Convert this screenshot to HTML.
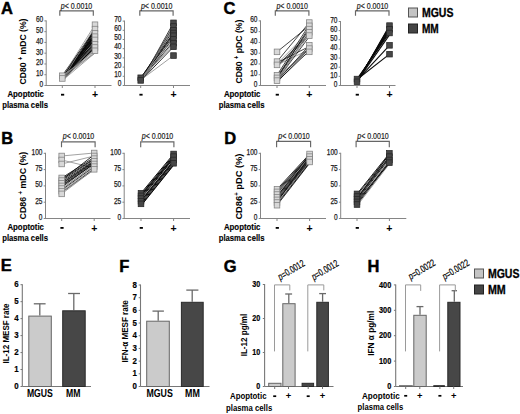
<!DOCTYPE html>
<html><head><meta charset="utf-8"><style>
html,body{margin:0;padding:0;background:#fff;}
svg{display:block;font-family:"Liberation Sans", sans-serif;}
</style></head><body>
<svg width="520" height="414" viewBox="0 0 520 414">
<rect width="520" height="414" fill="#fff"/>
<text x="1.00" y="14.10" font-size="16.5" font-weight="bold" text-anchor="start" fill="#000" stroke="#000" stroke-width="0.45">A</text>
<text x="223.60" y="13.90" font-size="16.5" font-weight="bold" text-anchor="start" fill="#000" stroke="#000" stroke-width="0.45">C</text>
<text x="1.20" y="144.20" font-size="16.5" font-weight="bold" text-anchor="start" fill="#000" stroke="#000" stroke-width="0.45">B</text>
<text x="224.20" y="143.70" font-size="16.5" font-weight="bold" text-anchor="start" fill="#000" stroke="#000" stroke-width="0.45">D</text>
<text x="0.80" y="271.30" font-size="16.5" font-weight="bold" text-anchor="start" fill="#000" stroke="#000" stroke-width="0.45">E</text>
<text x="119.20" y="271.60" font-size="16.5" font-weight="bold" text-anchor="start" fill="#000" stroke="#000" stroke-width="0.45">F</text>
<text x="223.80" y="272.10" font-size="16.5" font-weight="bold" text-anchor="start" fill="#000" stroke="#000" stroke-width="0.45">G</text>
<text x="367.40" y="272.10" font-size="16.5" font-weight="bold" text-anchor="start" fill="#000" stroke="#000" stroke-width="0.45">H</text>
<line x1="46.20" y1="20.40" x2="46.20" y2="85.50" stroke="#858585" stroke-width="1" />
<line x1="45.70" y1="85.50" x2="111.50" y2="85.50" stroke="#858585" stroke-width="1" />
<line x1="44.40" y1="85.50" x2="46.20" y2="85.50" stroke="#858585" stroke-width="1" />
<text x="43.20" y="87.00" font-size="9.0" font-weight="normal" text-anchor="end" fill="#1a1a1a" textLength="3.65" lengthAdjust="spacingAndGlyphs" stroke="#1a1a1a" stroke-width="0.25">0</text>
<line x1="44.40" y1="74.73" x2="46.20" y2="74.73" stroke="#858585" stroke-width="1" />
<text x="43.20" y="76.23" font-size="9.0" font-weight="normal" text-anchor="end" fill="#1a1a1a" textLength="7.30" lengthAdjust="spacingAndGlyphs" stroke="#1a1a1a" stroke-width="0.25">10</text>
<line x1="44.40" y1="63.97" x2="46.20" y2="63.97" stroke="#858585" stroke-width="1" />
<text x="43.20" y="65.47" font-size="9.0" font-weight="normal" text-anchor="end" fill="#1a1a1a" textLength="7.30" lengthAdjust="spacingAndGlyphs" stroke="#1a1a1a" stroke-width="0.25">20</text>
<line x1="44.40" y1="53.20" x2="46.20" y2="53.20" stroke="#858585" stroke-width="1" />
<text x="43.20" y="54.70" font-size="9.0" font-weight="normal" text-anchor="end" fill="#1a1a1a" textLength="7.30" lengthAdjust="spacingAndGlyphs" stroke="#1a1a1a" stroke-width="0.25">30</text>
<line x1="44.40" y1="42.43" x2="46.20" y2="42.43" stroke="#858585" stroke-width="1" />
<text x="43.20" y="43.93" font-size="9.0" font-weight="normal" text-anchor="end" fill="#1a1a1a" textLength="7.30" lengthAdjust="spacingAndGlyphs" stroke="#1a1a1a" stroke-width="0.25">40</text>
<line x1="44.40" y1="31.67" x2="46.20" y2="31.67" stroke="#858585" stroke-width="1" />
<text x="43.20" y="33.17" font-size="9.0" font-weight="normal" text-anchor="end" fill="#1a1a1a" textLength="7.30" lengthAdjust="spacingAndGlyphs" stroke="#1a1a1a" stroke-width="0.25">50</text>
<line x1="44.40" y1="20.90" x2="46.20" y2="20.90" stroke="#858585" stroke-width="1" />
<text x="43.20" y="22.40" font-size="9.0" font-weight="normal" text-anchor="end" fill="#1a1a1a" textLength="7.30" lengthAdjust="spacingAndGlyphs" stroke="#1a1a1a" stroke-width="0.25">60</text>
<line x1="62.30" y1="85.50" x2="62.30" y2="88.00" stroke="#858585" stroke-width="1" />
<line x1="95.00" y1="85.50" x2="95.00" y2="88.00" stroke="#858585" stroke-width="1" />
<polyline points="59.80,15.80 59.80,10.80 93.30,10.80 93.30,15.80" fill="none" stroke="#666" stroke-width="1.15"/>
<text x="76.50" y="8.50" font-size="9.2" font-weight="normal" text-anchor="middle" fill="#1a1a1a" textLength="31.50" lengthAdjust="spacingAndGlyphs" stroke="#1a1a1a" stroke-width="0.2"><tspan font-style="italic">p</tspan>&lt; 0.0010</text>
<line x1="62.30" y1="80.08" x2="95.00" y2="31.25" stroke="#0a0a0a" stroke-width="1.1" />
<line x1="62.30" y1="78.99" x2="95.00" y2="33.42" stroke="#0a0a0a" stroke-width="1.1" />
<line x1="62.30" y1="77.91" x2="95.00" y2="35.59" stroke="#0a0a0a" stroke-width="1.1" />
<line x1="62.30" y1="79.53" x2="95.00" y2="37.76" stroke="#0a0a0a" stroke-width="1.1" />
<line x1="62.30" y1="76.82" x2="95.00" y2="39.93" stroke="#0a0a0a" stroke-width="1.1" />
<line x1="62.30" y1="78.45" x2="95.00" y2="42.10" stroke="#0a0a0a" stroke-width="1.1" />
<line x1="62.30" y1="77.36" x2="95.00" y2="44.27" stroke="#0a0a0a" stroke-width="1.1" />
<line x1="62.30" y1="80.08" x2="95.00" y2="46.44" stroke="#0a0a0a" stroke-width="1.1" />
<line x1="62.30" y1="75.73" x2="95.00" y2="30.16" stroke="#0a0a0a" stroke-width="1.1" />
<line x1="62.30" y1="78.99" x2="95.00" y2="47.52" stroke="#0a0a0a" stroke-width="1.1" />
<line x1="62.30" y1="77.91" x2="95.00" y2="34.51" stroke="#0a0a0a" stroke-width="1.1" />
<line x1="62.30" y1="76.82" x2="95.00" y2="36.68" stroke="#0a0a0a" stroke-width="1.1" />
<line x1="62.30" y1="78.99" x2="95.00" y2="38.84" stroke="#0a0a0a" stroke-width="1.1" />
<line x1="62.30" y1="77.91" x2="95.00" y2="29.08" stroke="#0a0a0a" stroke-width="1.1" />
<line x1="62.30" y1="80.62" x2="95.00" y2="52.95" stroke="#8a8a8a" stroke-width="0.8" />
<line x1="62.30" y1="76.28" x2="95.00" y2="50.78" stroke="#8a8a8a" stroke-width="0.8" />
<line x1="62.30" y1="78.99" x2="95.00" y2="51.87" stroke="#8a8a8a" stroke-width="0.8" />
<line x1="62.30" y1="77.91" x2="95.00" y2="49.70" stroke="#8a8a8a" stroke-width="0.8" />
<line x1="62.30" y1="80.08" x2="95.00" y2="26.91" stroke="#8a8a8a" stroke-width="0.8" />
<line x1="62.30" y1="76.82" x2="95.00" y2="24.74" stroke="#8a8a8a" stroke-width="0.8" />
<line x1="62.30" y1="75.73" x2="95.00" y2="53.17" stroke="#8a8a8a" stroke-width="0.8" />
<rect x="59.50" y="72.94" width="5.60" height="5.60" fill="#d8d8d8" stroke="#808080" stroke-width="0.75"/>
<rect x="59.50" y="75.65" width="5.60" height="5.60" fill="#d8d8d8" stroke="#808080" stroke-width="0.75"/>
<rect x="92.20" y="21.94" width="5.60" height="5.60" fill="#d8d8d8" stroke="#808080" stroke-width="0.75"/>
<rect x="92.20" y="26.28" width="5.60" height="5.60" fill="#d8d8d8" stroke="#808080" stroke-width="0.75"/>
<rect x="92.20" y="30.62" width="5.60" height="5.60" fill="#d8d8d8" stroke="#808080" stroke-width="0.75"/>
<rect x="92.20" y="33.88" width="5.60" height="5.60" fill="#d8d8d8" stroke="#808080" stroke-width="0.75"/>
<rect x="92.20" y="37.13" width="5.60" height="5.60" fill="#d8d8d8" stroke="#808080" stroke-width="0.75"/>
<rect x="92.20" y="41.47" width="5.60" height="5.60" fill="#d8d8d8" stroke="#808080" stroke-width="0.75"/>
<rect x="92.20" y="44.73" width="5.60" height="5.60" fill="#d8d8d8" stroke="#808080" stroke-width="0.75"/>
<rect x="92.20" y="47.98" width="5.60" height="5.60" fill="#d8d8d8" stroke="#808080" stroke-width="0.75"/>
<rect x="61.00" y="93.80" width="3.20" height="1.80" fill="#000" stroke="none" stroke-width="1"/>
<text x="95.00" y="98.30" font-size="10.5" font-weight="bold" text-anchor="middle" fill="#000">+</text>
<text x="44.00" y="96.80" font-size="9.4" font-weight="bold" text-anchor="end" fill="#000" textLength="36.60" lengthAdjust="spacingAndGlyphs" stroke="#000" stroke-width="0.15">Apoptotic</text>
<text x="48.00" y="107.90" font-size="9.4" font-weight="bold" text-anchor="end" fill="#000" textLength="45.80" lengthAdjust="spacingAndGlyphs" stroke="#000" stroke-width="0.15">plasma cells</text>
<text x="26.30" y="51.50" font-size="9.9" font-weight="bold" text-anchor="middle" fill="#000" textLength="66.00" lengthAdjust="spacingAndGlyphs" transform="rotate(-90 26.30 51.50)">CD80 <tspan dy="-3.4" font-size="6.5">+</tspan><tspan dy="3.4"> mDC (%)</tspan></text>
<line x1="124.50" y1="20.60" x2="124.50" y2="85.50" stroke="#858585" stroke-width="1" />
<line x1="124.00" y1="85.50" x2="190.00" y2="85.50" stroke="#858585" stroke-width="1" />
<line x1="122.70" y1="85.50" x2="124.50" y2="85.50" stroke="#858585" stroke-width="1" />
<text x="121.50" y="86.20" font-size="9.0" font-weight="normal" text-anchor="end" fill="#1a1a1a" textLength="3.65" lengthAdjust="spacingAndGlyphs" stroke="#1a1a1a" stroke-width="0.25">0</text>
<line x1="122.70" y1="76.30" x2="124.50" y2="76.30" stroke="#858585" stroke-width="1" />
<text x="121.50" y="77.00" font-size="9.0" font-weight="normal" text-anchor="end" fill="#1a1a1a" textLength="7.30" lengthAdjust="spacingAndGlyphs" stroke="#1a1a1a" stroke-width="0.25">10</text>
<line x1="122.70" y1="67.10" x2="124.50" y2="67.10" stroke="#858585" stroke-width="1" />
<text x="121.50" y="67.80" font-size="9.0" font-weight="normal" text-anchor="end" fill="#1a1a1a" textLength="7.30" lengthAdjust="spacingAndGlyphs" stroke="#1a1a1a" stroke-width="0.25">20</text>
<line x1="122.70" y1="57.90" x2="124.50" y2="57.90" stroke="#858585" stroke-width="1" />
<text x="121.50" y="58.60" font-size="9.0" font-weight="normal" text-anchor="end" fill="#1a1a1a" textLength="7.30" lengthAdjust="spacingAndGlyphs" stroke="#1a1a1a" stroke-width="0.25">30</text>
<line x1="122.70" y1="48.70" x2="124.50" y2="48.70" stroke="#858585" stroke-width="1" />
<text x="121.50" y="49.40" font-size="9.0" font-weight="normal" text-anchor="end" fill="#1a1a1a" textLength="7.30" lengthAdjust="spacingAndGlyphs" stroke="#1a1a1a" stroke-width="0.25">40</text>
<line x1="122.70" y1="39.50" x2="124.50" y2="39.50" stroke="#858585" stroke-width="1" />
<text x="121.50" y="40.20" font-size="9.0" font-weight="normal" text-anchor="end" fill="#1a1a1a" textLength="7.30" lengthAdjust="spacingAndGlyphs" stroke="#1a1a1a" stroke-width="0.25">50</text>
<line x1="122.70" y1="30.30" x2="124.50" y2="30.30" stroke="#858585" stroke-width="1" />
<text x="121.50" y="31.00" font-size="9.0" font-weight="normal" text-anchor="end" fill="#1a1a1a" textLength="7.30" lengthAdjust="spacingAndGlyphs" stroke="#1a1a1a" stroke-width="0.25">60</text>
<line x1="122.70" y1="21.10" x2="124.50" y2="21.10" stroke="#858585" stroke-width="1" />
<text x="121.50" y="21.80" font-size="9.0" font-weight="normal" text-anchor="end" fill="#1a1a1a" textLength="7.30" lengthAdjust="spacingAndGlyphs" stroke="#1a1a1a" stroke-width="0.25">70</text>
<line x1="140.70" y1="85.50" x2="140.70" y2="88.00" stroke="#858585" stroke-width="1" />
<line x1="173.50" y1="85.50" x2="173.50" y2="88.00" stroke="#858585" stroke-width="1" />
<polyline points="139.80,15.80 139.80,10.80 173.10,10.80 173.10,15.80" fill="none" stroke="#666" stroke-width="1.15"/>
<text x="156.70" y="8.50" font-size="9.2" font-weight="normal" text-anchor="middle" fill="#1a1a1a" textLength="31.50" lengthAdjust="spacingAndGlyphs" stroke="#1a1a1a" stroke-width="0.2"><tspan font-style="italic">p</tspan>&lt; 0.0010</text>
<line x1="140.70" y1="81.81" x2="173.50" y2="22.84" stroke="#0a0a0a" stroke-width="0.85" />
<line x1="140.70" y1="80.89" x2="173.50" y2="24.69" stroke="#8a8a8a" stroke-width="0.8" />
<line x1="140.70" y1="79.97" x2="173.50" y2="26.53" stroke="#0a0a0a" stroke-width="0.85" />
<line x1="140.70" y1="79.05" x2="173.50" y2="28.37" stroke="#8a8a8a" stroke-width="0.8" />
<line x1="140.70" y1="78.13" x2="173.50" y2="30.21" stroke="#0a0a0a" stroke-width="0.85" />
<line x1="140.70" y1="80.89" x2="173.50" y2="32.06" stroke="#8a8a8a" stroke-width="0.8" />
<line x1="140.70" y1="79.97" x2="173.50" y2="33.90" stroke="#0a0a0a" stroke-width="0.85" />
<line x1="140.70" y1="79.05" x2="173.50" y2="35.74" stroke="#0a0a0a" stroke-width="0.85" />
<line x1="140.70" y1="81.35" x2="173.50" y2="37.59" stroke="#0a0a0a" stroke-width="0.85" />
<line x1="140.70" y1="78.13" x2="173.50" y2="39.43" stroke="#8a8a8a" stroke-width="0.8" />
<line x1="140.70" y1="80.43" x2="173.50" y2="41.27" stroke="#0a0a0a" stroke-width="0.85" />
<line x1="140.70" y1="79.51" x2="173.50" y2="43.11" stroke="#8a8a8a" stroke-width="0.8" />
<line x1="140.70" y1="79.05" x2="173.50" y2="44.96" stroke="#8a8a8a" stroke-width="0.8" />
<line x1="140.70" y1="80.89" x2="173.50" y2="46.80" stroke="#0a0a0a" stroke-width="0.85" />
<line x1="140.70" y1="79.97" x2="173.50" y2="55.55" stroke="#8a8a8a" stroke-width="0.8" />
<line x1="140.70" y1="77.76" x2="173.50" y2="32.98" stroke="#0a0a0a" stroke-width="0.85" />
<line x1="140.70" y1="81.72" x2="173.50" y2="27.45" stroke="#8a8a8a" stroke-width="0.8" />
<rect x="137.90" y="74.96" width="5.60" height="5.60" fill="#474747" stroke="#262626" stroke-width="0.75"/>
<rect x="137.90" y="77.63" width="5.60" height="5.60" fill="#474747" stroke="#262626" stroke-width="0.75"/>
<rect x="170.70" y="20.04" width="5.60" height="5.60" fill="#474747" stroke="#262626" stroke-width="0.75"/>
<rect x="170.70" y="23.73" width="5.60" height="5.60" fill="#474747" stroke="#262626" stroke-width="0.75"/>
<rect x="170.70" y="27.41" width="5.60" height="5.60" fill="#474747" stroke="#262626" stroke-width="0.75"/>
<rect x="170.70" y="30.18" width="5.60" height="5.60" fill="#474747" stroke="#262626" stroke-width="0.75"/>
<rect x="170.70" y="32.94" width="5.60" height="5.60" fill="#474747" stroke="#262626" stroke-width="0.75"/>
<rect x="170.70" y="36.63" width="5.60" height="5.60" fill="#474747" stroke="#262626" stroke-width="0.75"/>
<rect x="170.70" y="40.31" width="5.60" height="5.60" fill="#474747" stroke="#262626" stroke-width="0.75"/>
<rect x="170.70" y="44.00" width="5.60" height="5.60" fill="#474747" stroke="#262626" stroke-width="0.75"/>
<rect x="170.70" y="52.75" width="5.60" height="5.60" fill="#474747" stroke="#262626" stroke-width="0.75"/>
<rect x="139.40" y="93.80" width="3.20" height="1.80" fill="#000" stroke="none" stroke-width="1"/>
<text x="173.50" y="98.30" font-size="10.5" font-weight="bold" text-anchor="middle" fill="#000">+</text>
<line x1="260.50" y1="20.40" x2="260.50" y2="85.50" stroke="#858585" stroke-width="1" />
<line x1="260.00" y1="85.50" x2="326.00" y2="85.50" stroke="#858585" stroke-width="1" />
<line x1="258.70" y1="85.50" x2="260.50" y2="85.50" stroke="#858585" stroke-width="1" />
<text x="257.50" y="87.00" font-size="9.0" font-weight="normal" text-anchor="end" fill="#1a1a1a" textLength="3.65" lengthAdjust="spacingAndGlyphs" stroke="#1a1a1a" stroke-width="0.25">0</text>
<line x1="258.70" y1="74.73" x2="260.50" y2="74.73" stroke="#858585" stroke-width="1" />
<text x="257.50" y="76.23" font-size="9.0" font-weight="normal" text-anchor="end" fill="#1a1a1a" textLength="7.30" lengthAdjust="spacingAndGlyphs" stroke="#1a1a1a" stroke-width="0.25">10</text>
<line x1="258.70" y1="63.97" x2="260.50" y2="63.97" stroke="#858585" stroke-width="1" />
<text x="257.50" y="65.47" font-size="9.0" font-weight="normal" text-anchor="end" fill="#1a1a1a" textLength="7.30" lengthAdjust="spacingAndGlyphs" stroke="#1a1a1a" stroke-width="0.25">20</text>
<line x1="258.70" y1="53.20" x2="260.50" y2="53.20" stroke="#858585" stroke-width="1" />
<text x="257.50" y="54.70" font-size="9.0" font-weight="normal" text-anchor="end" fill="#1a1a1a" textLength="7.30" lengthAdjust="spacingAndGlyphs" stroke="#1a1a1a" stroke-width="0.25">30</text>
<line x1="258.70" y1="42.43" x2="260.50" y2="42.43" stroke="#858585" stroke-width="1" />
<text x="257.50" y="43.93" font-size="9.0" font-weight="normal" text-anchor="end" fill="#1a1a1a" textLength="7.30" lengthAdjust="spacingAndGlyphs" stroke="#1a1a1a" stroke-width="0.25">40</text>
<line x1="258.70" y1="31.67" x2="260.50" y2="31.67" stroke="#858585" stroke-width="1" />
<text x="257.50" y="33.17" font-size="9.0" font-weight="normal" text-anchor="end" fill="#1a1a1a" textLength="7.30" lengthAdjust="spacingAndGlyphs" stroke="#1a1a1a" stroke-width="0.25">50</text>
<line x1="258.70" y1="20.90" x2="260.50" y2="20.90" stroke="#858585" stroke-width="1" />
<text x="257.50" y="22.40" font-size="9.0" font-weight="normal" text-anchor="end" fill="#1a1a1a" textLength="7.30" lengthAdjust="spacingAndGlyphs" stroke="#1a1a1a" stroke-width="0.25">60</text>
<line x1="277.00" y1="85.50" x2="277.00" y2="88.00" stroke="#858585" stroke-width="1" />
<line x1="309.30" y1="85.50" x2="309.30" y2="88.00" stroke="#858585" stroke-width="1" />
<polyline points="275.30,15.80 275.30,10.80 308.90,10.80 308.90,15.80" fill="none" stroke="#666" stroke-width="1.15"/>
<text x="292.20" y="8.50" font-size="9.2" font-weight="normal" text-anchor="middle" fill="#1a1a1a" textLength="31.50" lengthAdjust="spacingAndGlyphs" stroke="#1a1a1a" stroke-width="0.2"><tspan font-style="italic">p</tspan>&lt; 0.0010</text>
<line x1="277.00" y1="51.87" x2="309.30" y2="25.83" stroke="#0a0a0a" stroke-width="0.75" />
<line x1="277.00" y1="61.63" x2="309.30" y2="22.57" stroke="#0a0a0a" stroke-width="0.75" />
<line x1="277.00" y1="63.80" x2="309.30" y2="31.25" stroke="#8a8a8a" stroke-width="0.8" />
<line x1="277.00" y1="65.97" x2="309.30" y2="33.42" stroke="#0a0a0a" stroke-width="0.75" />
<line x1="277.00" y1="67.06" x2="309.30" y2="35.59" stroke="#0a0a0a" stroke-width="0.75" />
<line x1="277.00" y1="62.72" x2="309.30" y2="46.44" stroke="#0a0a0a" stroke-width="0.75" />
<line x1="277.00" y1="64.89" x2="309.30" y2="49.70" stroke="#8a8a8a" stroke-width="0.8" />
<line x1="277.00" y1="75.19" x2="309.30" y2="24.74" stroke="#0a0a0a" stroke-width="0.75" />
<line x1="277.00" y1="76.82" x2="309.30" y2="29.08" stroke="#0a0a0a" stroke-width="0.75" />
<line x1="277.00" y1="77.91" x2="309.30" y2="32.34" stroke="#0a0a0a" stroke-width="0.75" />
<line x1="277.00" y1="78.99" x2="309.30" y2="34.51" stroke="#8a8a8a" stroke-width="0.8" />
<line x1="277.00" y1="80.08" x2="309.30" y2="36.68" stroke="#0a0a0a" stroke-width="0.75" />
<line x1="277.00" y1="81.16" x2="309.30" y2="45.36" stroke="#0a0a0a" stroke-width="0.75" />
<line x1="277.00" y1="82.25" x2="309.30" y2="48.61" stroke="#0a0a0a" stroke-width="0.75" />
<line x1="277.00" y1="76.28" x2="309.30" y2="51.87" stroke="#8a8a8a" stroke-width="0.8" />
<line x1="277.00" y1="78.45" x2="309.30" y2="26.91" stroke="#0a0a0a" stroke-width="0.75" />
<line x1="277.00" y1="79.53" x2="309.30" y2="47.52" stroke="#0a0a0a" stroke-width="0.75" />
<line x1="277.00" y1="80.62" x2="309.30" y2="31.25" stroke="#8a8a8a" stroke-width="0.8" />
<line x1="277.00" y1="81.70" x2="309.30" y2="50.78" stroke="#0a0a0a" stroke-width="0.75" />
<rect x="274.20" y="49.07" width="5.60" height="5.60" fill="#d8d8d8" stroke="#808080" stroke-width="0.75"/>
<rect x="274.20" y="58.83" width="5.60" height="5.60" fill="#d8d8d8" stroke="#808080" stroke-width="0.75"/>
<rect x="274.20" y="62.09" width="5.60" height="5.60" fill="#d8d8d8" stroke="#808080" stroke-width="0.75"/>
<rect x="274.20" y="72.39" width="5.60" height="5.60" fill="#d8d8d8" stroke="#808080" stroke-width="0.75"/>
<rect x="274.20" y="75.11" width="5.60" height="5.60" fill="#d8d8d8" stroke="#808080" stroke-width="0.75"/>
<rect x="274.20" y="77.82" width="5.60" height="5.60" fill="#d8d8d8" stroke="#808080" stroke-width="0.75"/>
<rect x="306.50" y="19.77" width="5.60" height="5.60" fill="#d8d8d8" stroke="#808080" stroke-width="0.75"/>
<rect x="306.50" y="23.03" width="5.60" height="5.60" fill="#d8d8d8" stroke="#808080" stroke-width="0.75"/>
<rect x="306.50" y="26.28" width="5.60" height="5.60" fill="#d8d8d8" stroke="#808080" stroke-width="0.75"/>
<rect x="306.50" y="29.54" width="5.60" height="5.60" fill="#d8d8d8" stroke="#808080" stroke-width="0.75"/>
<rect x="306.50" y="32.79" width="5.60" height="5.60" fill="#d8d8d8" stroke="#808080" stroke-width="0.75"/>
<rect x="306.50" y="42.56" width="5.60" height="5.60" fill="#d8d8d8" stroke="#808080" stroke-width="0.75"/>
<rect x="306.50" y="45.81" width="5.60" height="5.60" fill="#d8d8d8" stroke="#808080" stroke-width="0.75"/>
<rect x="306.50" y="49.07" width="5.60" height="5.60" fill="#d8d8d8" stroke="#808080" stroke-width="0.75"/>
<rect x="275.70" y="93.80" width="3.20" height="1.80" fill="#000" stroke="none" stroke-width="1"/>
<text x="309.30" y="98.30" font-size="10.5" font-weight="bold" text-anchor="middle" fill="#000">+</text>
<text x="260.50" y="96.80" font-size="9.4" font-weight="bold" text-anchor="end" fill="#000" textLength="36.60" lengthAdjust="spacingAndGlyphs" stroke="#000" stroke-width="0.15">Apoptotic</text>
<text x="264.50" y="107.90" font-size="9.4" font-weight="bold" text-anchor="end" fill="#000" textLength="45.80" lengthAdjust="spacingAndGlyphs" stroke="#000" stroke-width="0.15">plasma cells</text>
<text x="242.30" y="51.60" font-size="9.9" font-weight="bold" text-anchor="middle" fill="#000" textLength="64.00" lengthAdjust="spacingAndGlyphs" transform="rotate(-90 242.30 51.60)">CD80 <tspan dy="-3.4" font-size="6.5">+</tspan><tspan dy="3.4"> pDC (%)</tspan></text>
<line x1="340.50" y1="21.00" x2="340.50" y2="85.50" stroke="#858585" stroke-width="1" />
<line x1="340.00" y1="85.50" x2="395.50" y2="85.50" stroke="#858585" stroke-width="1" />
<line x1="338.70" y1="85.50" x2="340.50" y2="85.50" stroke="#858585" stroke-width="1" />
<text x="337.50" y="87.00" font-size="9.0" font-weight="normal" text-anchor="end" fill="#1a1a1a" textLength="3.65" lengthAdjust="spacingAndGlyphs" stroke="#1a1a1a" stroke-width="0.25">0</text>
<line x1="338.70" y1="76.36" x2="340.50" y2="76.36" stroke="#858585" stroke-width="1" />
<text x="337.50" y="77.86" font-size="9.0" font-weight="normal" text-anchor="end" fill="#1a1a1a" textLength="7.30" lengthAdjust="spacingAndGlyphs" stroke="#1a1a1a" stroke-width="0.25">10</text>
<line x1="338.70" y1="67.21" x2="340.50" y2="67.21" stroke="#858585" stroke-width="1" />
<text x="337.50" y="68.71" font-size="9.0" font-weight="normal" text-anchor="end" fill="#1a1a1a" textLength="7.30" lengthAdjust="spacingAndGlyphs" stroke="#1a1a1a" stroke-width="0.25">20</text>
<line x1="338.70" y1="58.07" x2="340.50" y2="58.07" stroke="#858585" stroke-width="1" />
<text x="337.50" y="59.57" font-size="9.0" font-weight="normal" text-anchor="end" fill="#1a1a1a" textLength="7.30" lengthAdjust="spacingAndGlyphs" stroke="#1a1a1a" stroke-width="0.25">30</text>
<line x1="338.70" y1="48.93" x2="340.50" y2="48.93" stroke="#858585" stroke-width="1" />
<text x="337.50" y="50.43" font-size="9.0" font-weight="normal" text-anchor="end" fill="#1a1a1a" textLength="7.30" lengthAdjust="spacingAndGlyphs" stroke="#1a1a1a" stroke-width="0.25">40</text>
<line x1="338.70" y1="39.79" x2="340.50" y2="39.79" stroke="#858585" stroke-width="1" />
<text x="337.50" y="41.29" font-size="9.0" font-weight="normal" text-anchor="end" fill="#1a1a1a" textLength="7.30" lengthAdjust="spacingAndGlyphs" stroke="#1a1a1a" stroke-width="0.25">50</text>
<line x1="338.70" y1="30.64" x2="340.50" y2="30.64" stroke="#858585" stroke-width="1" />
<text x="337.50" y="32.14" font-size="9.0" font-weight="normal" text-anchor="end" fill="#1a1a1a" textLength="7.30" lengthAdjust="spacingAndGlyphs" stroke="#1a1a1a" stroke-width="0.25">60</text>
<line x1="338.70" y1="21.50" x2="340.50" y2="21.50" stroke="#858585" stroke-width="1" />
<text x="337.50" y="23.00" font-size="9.0" font-weight="normal" text-anchor="end" fill="#1a1a1a" textLength="7.30" lengthAdjust="spacingAndGlyphs" stroke="#1a1a1a" stroke-width="0.25">70</text>
<line x1="357.00" y1="85.50" x2="357.00" y2="88.00" stroke="#858585" stroke-width="1" />
<line x1="389.50" y1="85.50" x2="389.50" y2="88.00" stroke="#858585" stroke-width="1" />
<polyline points="355.50,15.80 355.50,10.80 389.00,10.80 389.00,15.80" fill="none" stroke="#666" stroke-width="1.15"/>
<text x="372.50" y="8.50" font-size="9.2" font-weight="normal" text-anchor="middle" fill="#1a1a1a" textLength="31.50" lengthAdjust="spacingAndGlyphs" stroke="#1a1a1a" stroke-width="0.2"><tspan font-style="italic">p</tspan>&lt; 0.0010</text>
<line x1="357.00" y1="82.74" x2="389.50" y2="25.61" stroke="#0a0a0a" stroke-width="1.1" />
<line x1="357.00" y1="81.81" x2="389.50" y2="27.45" stroke="#0a0a0a" stroke-width="1.1" />
<line x1="357.00" y1="80.89" x2="389.50" y2="29.29" stroke="#0a0a0a" stroke-width="1.1" />
<line x1="357.00" y1="79.97" x2="389.50" y2="31.14" stroke="#0a0a0a" stroke-width="1.1" />
<line x1="357.00" y1="79.05" x2="389.50" y2="32.98" stroke="#0a0a0a" stroke-width="1.1" />
<line x1="357.00" y1="81.35" x2="389.50" y2="34.82" stroke="#0a0a0a" stroke-width="1.1" />
<line x1="357.00" y1="80.43" x2="389.50" y2="45.33" stroke="#0a0a0a" stroke-width="1.1" />
<line x1="357.00" y1="79.51" x2="389.50" y2="54.17" stroke="#0a0a0a" stroke-width="1.1" />
<line x1="357.00" y1="82.28" x2="389.50" y2="26.53" stroke="#0a0a0a" stroke-width="1.1" />
<line x1="357.00" y1="80.89" x2="389.50" y2="30.21" stroke="#0a0a0a" stroke-width="1.1" />
<rect x="354.20" y="76.25" width="5.60" height="5.60" fill="#474747" stroke="#262626" stroke-width="0.75"/>
<rect x="354.20" y="79.01" width="5.60" height="5.60" fill="#474747" stroke="#262626" stroke-width="0.75"/>
<rect x="386.70" y="22.81" width="5.60" height="5.60" fill="#474747" stroke="#262626" stroke-width="0.75"/>
<rect x="386.70" y="26.49" width="5.60" height="5.60" fill="#474747" stroke="#262626" stroke-width="0.75"/>
<rect x="386.70" y="30.18" width="5.60" height="5.60" fill="#474747" stroke="#262626" stroke-width="0.75"/>
<rect x="386.70" y="42.53" width="5.60" height="5.60" fill="#474747" stroke="#262626" stroke-width="0.75"/>
<rect x="386.70" y="51.37" width="5.60" height="5.60" fill="#474747" stroke="#262626" stroke-width="0.75"/>
<rect x="355.70" y="93.80" width="3.20" height="1.80" fill="#000" stroke="none" stroke-width="1"/>
<text x="389.50" y="98.30" font-size="10.5" font-weight="bold" text-anchor="middle" fill="#000">+</text>
<line x1="45.50" y1="152.80" x2="45.50" y2="218.50" stroke="#858585" stroke-width="1" />
<line x1="45.00" y1="218.50" x2="110.50" y2="218.50" stroke="#858585" stroke-width="1" />
<line x1="43.70" y1="218.50" x2="45.50" y2="218.50" stroke="#858585" stroke-width="1" />
<text x="42.50" y="220.00" font-size="9.0" font-weight="normal" text-anchor="end" fill="#1a1a1a" textLength="3.65" lengthAdjust="spacingAndGlyphs" stroke="#1a1a1a" stroke-width="0.25">0</text>
<line x1="43.70" y1="202.20" x2="45.50" y2="202.20" stroke="#858585" stroke-width="1" />
<text x="42.50" y="203.70" font-size="9.0" font-weight="normal" text-anchor="end" fill="#1a1a1a" textLength="7.30" lengthAdjust="spacingAndGlyphs" stroke="#1a1a1a" stroke-width="0.25">25</text>
<line x1="43.70" y1="185.90" x2="45.50" y2="185.90" stroke="#858585" stroke-width="1" />
<text x="42.50" y="187.40" font-size="9.0" font-weight="normal" text-anchor="end" fill="#1a1a1a" textLength="7.30" lengthAdjust="spacingAndGlyphs" stroke="#1a1a1a" stroke-width="0.25">50</text>
<line x1="43.70" y1="169.60" x2="45.50" y2="169.60" stroke="#858585" stroke-width="1" />
<text x="42.50" y="171.10" font-size="9.0" font-weight="normal" text-anchor="end" fill="#1a1a1a" textLength="7.30" lengthAdjust="spacingAndGlyphs" stroke="#1a1a1a" stroke-width="0.25">75</text>
<line x1="43.70" y1="153.30" x2="45.50" y2="153.30" stroke="#858585" stroke-width="1" />
<text x="42.50" y="154.80" font-size="9.0" font-weight="normal" text-anchor="end" fill="#1a1a1a" textLength="10.95" lengthAdjust="spacingAndGlyphs" stroke="#1a1a1a" stroke-width="0.25">100</text>
<line x1="61.70" y1="218.50" x2="61.70" y2="221.00" stroke="#858585" stroke-width="1" />
<line x1="94.20" y1="218.50" x2="94.20" y2="221.00" stroke="#858585" stroke-width="1" />
<polyline points="61.50,147.30 61.50,141.90 95.10,141.90 95.10,147.30" fill="none" stroke="#666" stroke-width="1.15"/>
<text x="78.50" y="139.30" font-size="9.2" font-weight="normal" text-anchor="middle" fill="#1a1a1a" textLength="31.50" lengthAdjust="spacingAndGlyphs" stroke="#1a1a1a" stroke-width="0.2"><tspan font-style="italic">p</tspan>&lt; 0.0010</text>
<line x1="61.70" y1="155.99" x2="94.20" y2="153.00" stroke="#8a8a8a" stroke-width="0.8" />
<line x1="61.70" y1="163.97" x2="94.20" y2="155.99" stroke="#8a8a8a" stroke-width="0.8" />
<line x1="61.70" y1="159.98" x2="94.20" y2="167.96" stroke="#8a8a8a" stroke-width="0.8" />
<line x1="61.70" y1="177.94" x2="94.20" y2="157.32" stroke="#0a0a0a" stroke-width="0.85" />
<line x1="61.70" y1="179.26" x2="94.20" y2="158.65" stroke="#0a0a0a" stroke-width="0.85" />
<line x1="61.70" y1="180.59" x2="94.20" y2="159.31" stroke="#0a0a0a" stroke-width="0.85" />
<line x1="61.70" y1="181.93" x2="94.20" y2="160.64" stroke="#0a0a0a" stroke-width="0.85" />
<line x1="61.70" y1="183.25" x2="94.20" y2="161.31" stroke="#0a0a0a" stroke-width="0.85" />
<line x1="61.70" y1="183.92" x2="94.20" y2="161.97" stroke="#0a0a0a" stroke-width="0.85" />
<line x1="61.70" y1="185.25" x2="94.20" y2="162.64" stroke="#0a0a0a" stroke-width="0.85" />
<line x1="61.70" y1="185.91" x2="94.20" y2="163.97" stroke="#0a0a0a" stroke-width="0.85" />
<line x1="61.70" y1="187.25" x2="94.20" y2="163.31" stroke="#0a0a0a" stroke-width="0.85" />
<line x1="61.70" y1="188.57" x2="94.20" y2="165.30" stroke="#8a8a8a" stroke-width="0.8" />
<line x1="61.70" y1="189.91" x2="94.20" y2="166.63" stroke="#0a0a0a" stroke-width="0.85" />
<line x1="61.70" y1="191.24" x2="94.20" y2="167.29" stroke="#8a8a8a" stroke-width="0.8" />
<line x1="61.70" y1="192.56" x2="94.20" y2="168.62" stroke="#0a0a0a" stroke-width="0.85" />
<line x1="61.70" y1="193.90" x2="94.20" y2="169.29" stroke="#8a8a8a" stroke-width="0.8" />
<line x1="61.70" y1="191.90" x2="94.20" y2="169.95" stroke="#8a8a8a" stroke-width="0.8" />
<line x1="61.70" y1="179.93" x2="94.20" y2="154.66" stroke="#0a0a0a" stroke-width="0.85" />
<line x1="61.70" y1="189.24" x2="94.20" y2="164.63" stroke="#8a8a8a" stroke-width="0.8" />
<rect x="58.90" y="153.19" width="5.60" height="5.60" fill="#d8d8d8" stroke="#808080" stroke-width="0.75"/>
<rect x="58.90" y="157.18" width="5.60" height="5.60" fill="#d8d8d8" stroke="#808080" stroke-width="0.75"/>
<rect x="58.90" y="161.17" width="5.60" height="5.60" fill="#d8d8d8" stroke="#808080" stroke-width="0.75"/>
<rect x="58.90" y="175.13" width="5.60" height="5.60" fill="#d8d8d8" stroke="#808080" stroke-width="0.75"/>
<rect x="58.90" y="177.79" width="5.60" height="5.60" fill="#d8d8d8" stroke="#808080" stroke-width="0.75"/>
<rect x="58.90" y="180.45" width="5.60" height="5.60" fill="#d8d8d8" stroke="#808080" stroke-width="0.75"/>
<rect x="58.90" y="183.11" width="5.60" height="5.60" fill="#d8d8d8" stroke="#808080" stroke-width="0.75"/>
<rect x="58.90" y="185.77" width="5.60" height="5.60" fill="#d8d8d8" stroke="#808080" stroke-width="0.75"/>
<rect x="58.90" y="188.44" width="5.60" height="5.60" fill="#d8d8d8" stroke="#808080" stroke-width="0.75"/>
<rect x="58.90" y="191.09" width="5.60" height="5.60" fill="#d8d8d8" stroke="#808080" stroke-width="0.75"/>
<rect x="91.40" y="150.20" width="5.60" height="5.60" fill="#d8d8d8" stroke="#808080" stroke-width="0.75"/>
<rect x="91.40" y="153.19" width="5.60" height="5.60" fill="#d8d8d8" stroke="#808080" stroke-width="0.75"/>
<rect x="91.40" y="155.85" width="5.60" height="5.60" fill="#d8d8d8" stroke="#808080" stroke-width="0.75"/>
<rect x="91.40" y="158.51" width="5.60" height="5.60" fill="#d8d8d8" stroke="#808080" stroke-width="0.75"/>
<rect x="91.40" y="161.17" width="5.60" height="5.60" fill="#d8d8d8" stroke="#808080" stroke-width="0.75"/>
<rect x="91.40" y="163.83" width="5.60" height="5.60" fill="#d8d8d8" stroke="#808080" stroke-width="0.75"/>
<rect x="91.40" y="166.49" width="5.60" height="5.60" fill="#d8d8d8" stroke="#808080" stroke-width="0.75"/>
<rect x="60.40" y="227.00" width="3.20" height="1.80" fill="#000" stroke="none" stroke-width="1"/>
<text x="94.20" y="231.50" font-size="10.5" font-weight="bold" text-anchor="middle" fill="#000">+</text>
<text x="44.00" y="230.00" font-size="9.4" font-weight="bold" text-anchor="end" fill="#000" textLength="36.60" lengthAdjust="spacingAndGlyphs" stroke="#000" stroke-width="0.15">Apoptotic</text>
<text x="48.00" y="240.90" font-size="9.4" font-weight="bold" text-anchor="end" fill="#000" textLength="45.80" lengthAdjust="spacingAndGlyphs" stroke="#000" stroke-width="0.15">plasma cells</text>
<text x="26.30" y="185.60" font-size="9.9" font-weight="bold" text-anchor="middle" fill="#000" textLength="67.70" lengthAdjust="spacingAndGlyphs" transform="rotate(-90 26.30 185.60)">CD86 <tspan dy="-3.4" font-size="6.5">+</tspan><tspan dy="3.4"> mDC (%)</tspan></text>
<line x1="124.20" y1="152.80" x2="124.20" y2="218.50" stroke="#858585" stroke-width="1" />
<line x1="123.70" y1="218.50" x2="190.00" y2="218.50" stroke="#858585" stroke-width="1" />
<line x1="122.40" y1="218.50" x2="124.20" y2="218.50" stroke="#858585" stroke-width="1" />
<text x="121.20" y="220.00" font-size="9.0" font-weight="normal" text-anchor="end" fill="#1a1a1a" textLength="3.65" lengthAdjust="spacingAndGlyphs" stroke="#1a1a1a" stroke-width="0.25">0</text>
<line x1="122.40" y1="202.20" x2="124.20" y2="202.20" stroke="#858585" stroke-width="1" />
<text x="121.20" y="203.70" font-size="9.0" font-weight="normal" text-anchor="end" fill="#1a1a1a" textLength="7.30" lengthAdjust="spacingAndGlyphs" stroke="#1a1a1a" stroke-width="0.25">25</text>
<line x1="122.40" y1="185.90" x2="124.20" y2="185.90" stroke="#858585" stroke-width="1" />
<text x="121.20" y="187.40" font-size="9.0" font-weight="normal" text-anchor="end" fill="#1a1a1a" textLength="7.30" lengthAdjust="spacingAndGlyphs" stroke="#1a1a1a" stroke-width="0.25">50</text>
<line x1="122.40" y1="169.60" x2="124.20" y2="169.60" stroke="#858585" stroke-width="1" />
<text x="121.20" y="171.10" font-size="9.0" font-weight="normal" text-anchor="end" fill="#1a1a1a" textLength="7.30" lengthAdjust="spacingAndGlyphs" stroke="#1a1a1a" stroke-width="0.25">75</text>
<line x1="122.40" y1="153.30" x2="124.20" y2="153.30" stroke="#858585" stroke-width="1" />
<text x="121.20" y="154.80" font-size="9.0" font-weight="normal" text-anchor="end" fill="#1a1a1a" textLength="10.95" lengthAdjust="spacingAndGlyphs" stroke="#1a1a1a" stroke-width="0.25">100</text>
<line x1="141.00" y1="218.50" x2="141.00" y2="221.00" stroke="#858585" stroke-width="1" />
<line x1="173.60" y1="218.50" x2="173.60" y2="221.00" stroke="#858585" stroke-width="1" />
<polyline points="140.70,147.30 140.70,141.90 173.90,141.90 173.90,147.30" fill="none" stroke="#666" stroke-width="1.15"/>
<text x="157.50" y="139.30" font-size="9.2" font-weight="normal" text-anchor="middle" fill="#1a1a1a" textLength="31.50" lengthAdjust="spacingAndGlyphs" stroke="#1a1a1a" stroke-width="0.2"><tspan font-style="italic">p</tspan>&lt; 0.0010</text>
<line x1="141.00" y1="193.23" x2="173.60" y2="154.00" stroke="#0a0a0a" stroke-width="1.0" />
<line x1="141.00" y1="194.56" x2="173.60" y2="155.32" stroke="#0a0a0a" stroke-width="1.0" />
<line x1="141.00" y1="195.89" x2="173.60" y2="156.66" stroke="#0a0a0a" stroke-width="1.0" />
<line x1="141.00" y1="197.22" x2="173.60" y2="157.99" stroke="#0a0a0a" stroke-width="1.0" />
<line x1="141.00" y1="198.55" x2="173.60" y2="158.65" stroke="#0a0a0a" stroke-width="1.0" />
<line x1="141.00" y1="199.88" x2="173.60" y2="159.98" stroke="#8a8a8a" stroke-width="0.8" />
<line x1="141.00" y1="201.21" x2="173.60" y2="161.31" stroke="#0a0a0a" stroke-width="1.0" />
<line x1="141.00" y1="202.54" x2="173.60" y2="161.97" stroke="#0a0a0a" stroke-width="1.0" />
<line x1="141.00" y1="203.87" x2="173.60" y2="163.31" stroke="#0a0a0a" stroke-width="1.0" />
<line x1="141.00" y1="205.20" x2="173.60" y2="164.63" stroke="#0a0a0a" stroke-width="1.0" />
<line x1="141.00" y1="205.87" x2="173.60" y2="165.30" stroke="#0a0a0a" stroke-width="1.0" />
<line x1="141.00" y1="195.22" x2="173.60" y2="157.32" stroke="#0a0a0a" stroke-width="1.0" />
<line x1="141.00" y1="200.54" x2="173.60" y2="160.64" stroke="#0a0a0a" stroke-width="1.0" />
<rect x="138.20" y="190.43" width="5.60" height="5.60" fill="#474747" stroke="#262626" stroke-width="0.75"/>
<rect x="138.20" y="193.09" width="5.60" height="5.60" fill="#474747" stroke="#262626" stroke-width="0.75"/>
<rect x="138.20" y="195.75" width="5.60" height="5.60" fill="#474747" stroke="#262626" stroke-width="0.75"/>
<rect x="138.20" y="198.41" width="5.60" height="5.60" fill="#474747" stroke="#262626" stroke-width="0.75"/>
<rect x="138.20" y="201.07" width="5.60" height="5.60" fill="#474747" stroke="#262626" stroke-width="0.75"/>
<rect x="170.80" y="151.19" width="5.60" height="5.60" fill="#474747" stroke="#262626" stroke-width="0.75"/>
<rect x="170.80" y="153.85" width="5.60" height="5.60" fill="#474747" stroke="#262626" stroke-width="0.75"/>
<rect x="170.80" y="157.18" width="5.60" height="5.60" fill="#474747" stroke="#262626" stroke-width="0.75"/>
<rect x="170.80" y="160.50" width="5.60" height="5.60" fill="#474747" stroke="#262626" stroke-width="0.75"/>
<rect x="139.70" y="227.00" width="3.20" height="1.80" fill="#000" stroke="none" stroke-width="1"/>
<text x="173.60" y="231.50" font-size="10.5" font-weight="bold" text-anchor="middle" fill="#000">+</text>
<line x1="260.50" y1="152.80" x2="260.50" y2="218.50" stroke="#858585" stroke-width="1" />
<line x1="260.00" y1="218.50" x2="326.00" y2="218.50" stroke="#858585" stroke-width="1" />
<line x1="258.70" y1="218.50" x2="260.50" y2="218.50" stroke="#858585" stroke-width="1" />
<text x="257.50" y="220.00" font-size="9.0" font-weight="normal" text-anchor="end" fill="#1a1a1a" textLength="3.65" lengthAdjust="spacingAndGlyphs" stroke="#1a1a1a" stroke-width="0.25">0</text>
<line x1="258.70" y1="202.20" x2="260.50" y2="202.20" stroke="#858585" stroke-width="1" />
<text x="257.50" y="203.70" font-size="9.0" font-weight="normal" text-anchor="end" fill="#1a1a1a" textLength="7.30" lengthAdjust="spacingAndGlyphs" stroke="#1a1a1a" stroke-width="0.25">25</text>
<line x1="258.70" y1="185.90" x2="260.50" y2="185.90" stroke="#858585" stroke-width="1" />
<text x="257.50" y="187.40" font-size="9.0" font-weight="normal" text-anchor="end" fill="#1a1a1a" textLength="7.30" lengthAdjust="spacingAndGlyphs" stroke="#1a1a1a" stroke-width="0.25">50</text>
<line x1="258.70" y1="169.60" x2="260.50" y2="169.60" stroke="#858585" stroke-width="1" />
<text x="257.50" y="171.10" font-size="9.0" font-weight="normal" text-anchor="end" fill="#1a1a1a" textLength="7.30" lengthAdjust="spacingAndGlyphs" stroke="#1a1a1a" stroke-width="0.25">75</text>
<line x1="258.70" y1="153.30" x2="260.50" y2="153.30" stroke="#858585" stroke-width="1" />
<text x="257.50" y="154.80" font-size="9.0" font-weight="normal" text-anchor="end" fill="#1a1a1a" textLength="10.95" lengthAdjust="spacingAndGlyphs" stroke="#1a1a1a" stroke-width="0.25">100</text>
<line x1="277.00" y1="218.50" x2="277.00" y2="221.00" stroke="#858585" stroke-width="1" />
<line x1="309.60" y1="218.50" x2="309.60" y2="221.00" stroke="#858585" stroke-width="1" />
<polyline points="276.60,147.30 276.60,141.30 310.60,141.30 310.60,147.30" fill="none" stroke="#666" stroke-width="1.15"/>
<text x="294.00" y="138.70" font-size="9.2" font-weight="normal" text-anchor="middle" fill="#1a1a1a" textLength="31.50" lengthAdjust="spacingAndGlyphs" stroke="#1a1a1a" stroke-width="0.2"><tspan font-style="italic">p</tspan>&lt; 0.0010</text>
<line x1="277.00" y1="189.24" x2="309.60" y2="154.00" stroke="#0a0a0a" stroke-width="0.85" />
<line x1="277.00" y1="190.57" x2="309.60" y2="155.32" stroke="#0a0a0a" stroke-width="0.85" />
<line x1="277.00" y1="191.90" x2="309.60" y2="155.99" stroke="#0a0a0a" stroke-width="0.85" />
<line x1="277.00" y1="193.23" x2="309.60" y2="157.32" stroke="#0a0a0a" stroke-width="0.85" />
<line x1="277.00" y1="194.56" x2="309.60" y2="157.99" stroke="#8a8a8a" stroke-width="0.8" />
<line x1="277.00" y1="195.89" x2="309.60" y2="158.65" stroke="#0a0a0a" stroke-width="0.85" />
<line x1="277.00" y1="197.22" x2="309.60" y2="159.31" stroke="#0a0a0a" stroke-width="0.85" />
<line x1="277.00" y1="198.55" x2="309.60" y2="159.98" stroke="#0a0a0a" stroke-width="0.85" />
<line x1="277.00" y1="199.88" x2="309.60" y2="160.64" stroke="#0a0a0a" stroke-width="0.85" />
<line x1="277.00" y1="201.21" x2="309.60" y2="161.31" stroke="#0a0a0a" stroke-width="0.85" />
<line x1="277.00" y1="202.54" x2="309.60" y2="161.97" stroke="#8a8a8a" stroke-width="0.8" />
<line x1="277.00" y1="203.87" x2="309.60" y2="162.64" stroke="#0a0a0a" stroke-width="0.85" />
<line x1="277.00" y1="205.20" x2="309.60" y2="163.31" stroke="#0a0a0a" stroke-width="0.85" />
<line x1="277.00" y1="196.56" x2="309.60" y2="154.66" stroke="#0a0a0a" stroke-width="0.85" />
<line x1="277.00" y1="201.88" x2="309.60" y2="156.66" stroke="#0a0a0a" stroke-width="0.85" />
<rect x="274.20" y="186.44" width="5.60" height="5.60" fill="#d8d8d8" stroke="#808080" stroke-width="0.75"/>
<rect x="274.20" y="189.10" width="5.60" height="5.60" fill="#d8d8d8" stroke="#808080" stroke-width="0.75"/>
<rect x="274.20" y="191.76" width="5.60" height="5.60" fill="#d8d8d8" stroke="#808080" stroke-width="0.75"/>
<rect x="274.20" y="194.42" width="5.60" height="5.60" fill="#d8d8d8" stroke="#808080" stroke-width="0.75"/>
<rect x="274.20" y="197.08" width="5.60" height="5.60" fill="#d8d8d8" stroke="#808080" stroke-width="0.75"/>
<rect x="274.20" y="199.74" width="5.60" height="5.60" fill="#d8d8d8" stroke="#808080" stroke-width="0.75"/>
<rect x="274.20" y="202.40" width="5.60" height="5.60" fill="#d8d8d8" stroke="#808080" stroke-width="0.75"/>
<rect x="306.80" y="151.19" width="5.60" height="5.60" fill="#d8d8d8" stroke="#808080" stroke-width="0.75"/>
<rect x="306.80" y="153.85" width="5.60" height="5.60" fill="#d8d8d8" stroke="#808080" stroke-width="0.75"/>
<rect x="306.80" y="156.51" width="5.60" height="5.60" fill="#d8d8d8" stroke="#808080" stroke-width="0.75"/>
<rect x="306.80" y="159.17" width="5.60" height="5.60" fill="#d8d8d8" stroke="#808080" stroke-width="0.75"/>
<rect x="275.70" y="227.00" width="3.20" height="1.80" fill="#000" stroke="none" stroke-width="1"/>
<text x="309.60" y="231.50" font-size="10.5" font-weight="bold" text-anchor="middle" fill="#000">+</text>
<text x="260.50" y="230.00" font-size="9.4" font-weight="bold" text-anchor="end" fill="#000" textLength="36.60" lengthAdjust="spacingAndGlyphs" stroke="#000" stroke-width="0.15">Apoptotic</text>
<text x="264.50" y="240.90" font-size="9.4" font-weight="bold" text-anchor="end" fill="#000" textLength="45.80" lengthAdjust="spacingAndGlyphs" stroke="#000" stroke-width="0.15">plasma cells</text>
<text x="242.30" y="186.60" font-size="9.9" font-weight="bold" text-anchor="middle" fill="#000" textLength="66.00" lengthAdjust="spacingAndGlyphs" transform="rotate(-90 242.30 186.60)">CD86<tspan dy="-3.4" font-size="6.5">+</tspan><tspan dy="3.4"> pDC (%)</tspan></text>
<line x1="340.70" y1="152.80" x2="340.70" y2="218.50" stroke="#858585" stroke-width="1" />
<line x1="340.20" y1="218.50" x2="406.30" y2="218.50" stroke="#858585" stroke-width="1" />
<line x1="338.90" y1="218.50" x2="340.70" y2="218.50" stroke="#858585" stroke-width="1" />
<text x="337.70" y="220.00" font-size="9.0" font-weight="normal" text-anchor="end" fill="#1a1a1a" textLength="3.65" lengthAdjust="spacingAndGlyphs" stroke="#1a1a1a" stroke-width="0.25">0</text>
<line x1="338.90" y1="202.20" x2="340.70" y2="202.20" stroke="#858585" stroke-width="1" />
<text x="337.70" y="203.70" font-size="9.0" font-weight="normal" text-anchor="end" fill="#1a1a1a" textLength="7.30" lengthAdjust="spacingAndGlyphs" stroke="#1a1a1a" stroke-width="0.25">25</text>
<line x1="338.90" y1="185.90" x2="340.70" y2="185.90" stroke="#858585" stroke-width="1" />
<text x="337.70" y="187.40" font-size="9.0" font-weight="normal" text-anchor="end" fill="#1a1a1a" textLength="7.30" lengthAdjust="spacingAndGlyphs" stroke="#1a1a1a" stroke-width="0.25">50</text>
<line x1="338.90" y1="169.60" x2="340.70" y2="169.60" stroke="#858585" stroke-width="1" />
<text x="337.70" y="171.10" font-size="9.0" font-weight="normal" text-anchor="end" fill="#1a1a1a" textLength="7.30" lengthAdjust="spacingAndGlyphs" stroke="#1a1a1a" stroke-width="0.25">75</text>
<line x1="338.90" y1="153.30" x2="340.70" y2="153.30" stroke="#858585" stroke-width="1" />
<text x="337.70" y="154.80" font-size="9.0" font-weight="normal" text-anchor="end" fill="#1a1a1a" textLength="10.95" lengthAdjust="spacingAndGlyphs" stroke="#1a1a1a" stroke-width="0.25">100</text>
<line x1="357.00" y1="218.50" x2="357.00" y2="221.00" stroke="#858585" stroke-width="1" />
<line x1="389.40" y1="218.50" x2="389.40" y2="221.00" stroke="#858585" stroke-width="1" />
<polyline points="356.10,147.30 356.10,141.30 389.30,141.30 389.30,147.30" fill="none" stroke="#666" stroke-width="1.15"/>
<text x="373.00" y="138.70" font-size="9.2" font-weight="normal" text-anchor="middle" fill="#1a1a1a" textLength="31.50" lengthAdjust="spacingAndGlyphs" stroke="#1a1a1a" stroke-width="0.2"><tspan font-style="italic">p</tspan>&lt; 0.0010</text>
<line x1="357.00" y1="193.90" x2="389.40" y2="153.33" stroke="#0a0a0a" stroke-width="0.9" />
<line x1="357.00" y1="195.22" x2="389.40" y2="154.66" stroke="#0a0a0a" stroke-width="0.9" />
<line x1="357.00" y1="196.56" x2="389.40" y2="155.32" stroke="#8a8a8a" stroke-width="0.8" />
<line x1="357.00" y1="197.88" x2="389.40" y2="156.66" stroke="#0a0a0a" stroke-width="0.9" />
<line x1="357.00" y1="199.22" x2="389.40" y2="157.32" stroke="#0a0a0a" stroke-width="0.9" />
<line x1="357.00" y1="200.54" x2="389.40" y2="158.65" stroke="#0a0a0a" stroke-width="0.9" />
<line x1="357.00" y1="201.88" x2="389.40" y2="159.98" stroke="#8a8a8a" stroke-width="0.8" />
<line x1="357.00" y1="203.20" x2="389.40" y2="161.31" stroke="#0a0a0a" stroke-width="0.9" />
<line x1="357.00" y1="204.53" x2="389.40" y2="162.64" stroke="#0a0a0a" stroke-width="0.9" />
<line x1="357.00" y1="205.87" x2="389.40" y2="163.97" stroke="#8a8a8a" stroke-width="0.8" />
<line x1="357.00" y1="198.55" x2="389.40" y2="154.00" stroke="#0a0a0a" stroke-width="0.9" />
<line x1="357.00" y1="201.21" x2="389.40" y2="163.31" stroke="#0a0a0a" stroke-width="0.9" />
<rect x="354.20" y="191.09" width="5.60" height="5.60" fill="#474747" stroke="#262626" stroke-width="0.75"/>
<rect x="354.20" y="193.75" width="5.60" height="5.60" fill="#474747" stroke="#262626" stroke-width="0.75"/>
<rect x="354.20" y="196.41" width="5.60" height="5.60" fill="#474747" stroke="#262626" stroke-width="0.75"/>
<rect x="354.20" y="199.07" width="5.60" height="5.60" fill="#474747" stroke="#262626" stroke-width="0.75"/>
<rect x="354.20" y="201.73" width="5.60" height="5.60" fill="#474747" stroke="#262626" stroke-width="0.75"/>
<rect x="386.60" y="150.53" width="5.60" height="5.60" fill="#474747" stroke="#262626" stroke-width="0.75"/>
<rect x="386.60" y="153.85" width="5.60" height="5.60" fill="#474747" stroke="#262626" stroke-width="0.75"/>
<rect x="386.60" y="157.18" width="5.60" height="5.60" fill="#474747" stroke="#262626" stroke-width="0.75"/>
<rect x="386.60" y="159.84" width="5.60" height="5.60" fill="#474747" stroke="#262626" stroke-width="0.75"/>
<rect x="355.70" y="227.00" width="3.20" height="1.80" fill="#000" stroke="none" stroke-width="1"/>
<text x="389.40" y="231.50" font-size="10.5" font-weight="bold" text-anchor="middle" fill="#000">+</text>
<line x1="22.30" y1="284.20" x2="22.30" y2="386.50" stroke="#777" stroke-width="1.1" />
<line x1="22.30" y1="386.50" x2="91.00" y2="386.50" stroke="#777" stroke-width="1.1" />
<line x1="20.50" y1="386.50" x2="22.30" y2="386.50" stroke="#777" stroke-width="1" />
<text x="18.70" y="389.10" font-size="9.6" font-weight="bold" text-anchor="end" fill="#000" textLength="4.40" lengthAdjust="spacingAndGlyphs" stroke="#000" stroke-width="0.2">0</text>
<line x1="20.50" y1="369.53" x2="22.30" y2="369.53" stroke="#777" stroke-width="1" />
<text x="18.70" y="372.13" font-size="9.6" font-weight="bold" text-anchor="end" fill="#000" textLength="4.40" lengthAdjust="spacingAndGlyphs" stroke="#000" stroke-width="0.2">1</text>
<line x1="20.50" y1="352.57" x2="22.30" y2="352.57" stroke="#777" stroke-width="1" />
<text x="18.70" y="355.17" font-size="9.6" font-weight="bold" text-anchor="end" fill="#000" textLength="4.40" lengthAdjust="spacingAndGlyphs" stroke="#000" stroke-width="0.2">2</text>
<line x1="20.50" y1="335.60" x2="22.30" y2="335.60" stroke="#777" stroke-width="1" />
<text x="18.70" y="338.20" font-size="9.6" font-weight="bold" text-anchor="end" fill="#000" textLength="4.40" lengthAdjust="spacingAndGlyphs" stroke="#000" stroke-width="0.2">3</text>
<line x1="20.50" y1="318.63" x2="22.30" y2="318.63" stroke="#777" stroke-width="1" />
<text x="18.70" y="321.23" font-size="9.6" font-weight="bold" text-anchor="end" fill="#000" textLength="4.40" lengthAdjust="spacingAndGlyphs" stroke="#000" stroke-width="0.2">4</text>
<line x1="20.50" y1="301.67" x2="22.30" y2="301.67" stroke="#777" stroke-width="1" />
<text x="18.70" y="304.27" font-size="9.6" font-weight="bold" text-anchor="end" fill="#000" textLength="4.40" lengthAdjust="spacingAndGlyphs" stroke="#000" stroke-width="0.2">5</text>
<line x1="20.50" y1="284.70" x2="22.30" y2="284.70" stroke="#777" stroke-width="1" />
<text x="18.70" y="287.30" font-size="9.6" font-weight="bold" text-anchor="end" fill="#000" textLength="4.40" lengthAdjust="spacingAndGlyphs" stroke="#000" stroke-width="0.2">6</text>
<line x1="39.80" y1="303.80" x2="39.80" y2="315.60" stroke="#6a6a6a" stroke-width="1.3" />
<line x1="33.80" y1="303.80" x2="45.60" y2="303.80" stroke="#6a6a6a" stroke-width="1.3" />
<rect x="28.80" y="316.10" width="22.50" height="70.40" fill="#cbcbcb" stroke="#666" stroke-width="1"/>
<line x1="73.80" y1="293.50" x2="73.80" y2="310.30" stroke="#6a6a6a" stroke-width="1.3" />
<line x1="68.10" y1="293.50" x2="80.00" y2="293.50" stroke="#6a6a6a" stroke-width="1.3" />
<rect x="62.70" y="310.80" width="22.50" height="75.70" fill="#474747" stroke="#2a2a2a" stroke-width="1"/>
<text x="39.90" y="397.30" font-size="10.4" font-weight="bold" text-anchor="middle" fill="#000" textLength="26.00" lengthAdjust="spacingAndGlyphs">MGUS</text>
<text x="73.20" y="397.30" font-size="10.4" font-weight="bold" text-anchor="middle" fill="#000" textLength="14.40" lengthAdjust="spacingAndGlyphs">MM</text>
<text x="9.40" y="333.50" font-size="9.5" font-weight="bold" text-anchor="middle" fill="#000" textLength="60.00" lengthAdjust="spacingAndGlyphs" transform="rotate(-90 9.40 333.50)">IL-12 MESF rate</text>
<line x1="140.50" y1="284.50" x2="140.50" y2="386.50" stroke="#777" stroke-width="1.1" />
<line x1="140.50" y1="386.50" x2="209.50" y2="386.50" stroke="#777" stroke-width="1.1" />
<line x1="138.70" y1="386.50" x2="140.50" y2="386.50" stroke="#777" stroke-width="1" />
<text x="136.90" y="389.10" font-size="9.6" font-weight="bold" text-anchor="end" fill="#000" textLength="4.40" lengthAdjust="spacingAndGlyphs" stroke="#000" stroke-width="0.2">0</text>
<line x1="138.70" y1="373.81" x2="140.50" y2="373.81" stroke="#777" stroke-width="1" />
<text x="136.90" y="376.41" font-size="9.6" font-weight="bold" text-anchor="end" fill="#000" textLength="4.40" lengthAdjust="spacingAndGlyphs" stroke="#000" stroke-width="0.2">1</text>
<line x1="138.70" y1="361.12" x2="140.50" y2="361.12" stroke="#777" stroke-width="1" />
<text x="136.90" y="363.73" font-size="9.6" font-weight="bold" text-anchor="end" fill="#000" textLength="4.40" lengthAdjust="spacingAndGlyphs" stroke="#000" stroke-width="0.2">2</text>
<line x1="138.70" y1="348.44" x2="140.50" y2="348.44" stroke="#777" stroke-width="1" />
<text x="136.90" y="351.04" font-size="9.6" font-weight="bold" text-anchor="end" fill="#000" textLength="4.40" lengthAdjust="spacingAndGlyphs" stroke="#000" stroke-width="0.2">3</text>
<line x1="138.70" y1="335.75" x2="140.50" y2="335.75" stroke="#777" stroke-width="1" />
<text x="136.90" y="338.35" font-size="9.6" font-weight="bold" text-anchor="end" fill="#000" textLength="4.40" lengthAdjust="spacingAndGlyphs" stroke="#000" stroke-width="0.2">4</text>
<line x1="138.70" y1="323.06" x2="140.50" y2="323.06" stroke="#777" stroke-width="1" />
<text x="136.90" y="325.66" font-size="9.6" font-weight="bold" text-anchor="end" fill="#000" textLength="4.40" lengthAdjust="spacingAndGlyphs" stroke="#000" stroke-width="0.2">5</text>
<line x1="138.70" y1="310.38" x2="140.50" y2="310.38" stroke="#777" stroke-width="1" />
<text x="136.90" y="312.98" font-size="9.6" font-weight="bold" text-anchor="end" fill="#000" textLength="4.40" lengthAdjust="spacingAndGlyphs" stroke="#000" stroke-width="0.2">6</text>
<line x1="138.70" y1="297.69" x2="140.50" y2="297.69" stroke="#777" stroke-width="1" />
<text x="136.90" y="300.29" font-size="9.6" font-weight="bold" text-anchor="end" fill="#000" textLength="4.40" lengthAdjust="spacingAndGlyphs" stroke="#000" stroke-width="0.2">7</text>
<line x1="138.70" y1="285.00" x2="140.50" y2="285.00" stroke="#777" stroke-width="1" />
<text x="136.90" y="287.60" font-size="9.6" font-weight="bold" text-anchor="end" fill="#000" textLength="4.40" lengthAdjust="spacingAndGlyphs" stroke="#000" stroke-width="0.2">8</text>
<line x1="158.20" y1="311.10" x2="158.20" y2="320.70" stroke="#6a6a6a" stroke-width="1.3" />
<line x1="152.50" y1="311.10" x2="163.90" y2="311.10" stroke="#6a6a6a" stroke-width="1.3" />
<rect x="146.70" y="321.20" width="22.60" height="65.30" fill="#cbcbcb" stroke="#666" stroke-width="1"/>
<line x1="192.20" y1="290.10" x2="192.20" y2="301.80" stroke="#6a6a6a" stroke-width="1.3" />
<line x1="186.30" y1="290.10" x2="198.40" y2="290.10" stroke="#6a6a6a" stroke-width="1.3" />
<rect x="181.40" y="302.30" width="21.80" height="84.20" fill="#474747" stroke="#2a2a2a" stroke-width="1"/>
<text x="159.60" y="397.30" font-size="10.4" font-weight="bold" text-anchor="middle" fill="#000" textLength="26.40" lengthAdjust="spacingAndGlyphs">MGUS</text>
<text x="192.50" y="397.30" font-size="10.4" font-weight="bold" text-anchor="middle" fill="#000" textLength="14.80" lengthAdjust="spacingAndGlyphs">MM</text>
<text x="128.30" y="331.30" font-size="9.5" font-weight="bold" text-anchor="middle" fill="#000" textLength="62.30" lengthAdjust="spacingAndGlyphs" transform="rotate(-90 128.30 331.30)">IFN-α MESF rate</text>
<line x1="264.60" y1="284.00" x2="264.60" y2="386.50" stroke="#777" stroke-width="1.1" />
<line x1="264.60" y1="386.50" x2="333.50" y2="386.50" stroke="#777" stroke-width="1.1" />
<line x1="262.80" y1="386.50" x2="264.60" y2="386.50" stroke="#777" stroke-width="1" />
<text x="260.30" y="389.10" font-size="9.6" font-weight="bold" text-anchor="end" fill="#000" textLength="4.00" lengthAdjust="spacingAndGlyphs" stroke="#000" stroke-width="0.2">0</text>
<line x1="262.80" y1="352.50" x2="264.60" y2="352.50" stroke="#777" stroke-width="1" />
<text x="260.30" y="355.10" font-size="9.6" font-weight="bold" text-anchor="end" fill="#000" textLength="8.00" lengthAdjust="spacingAndGlyphs" stroke="#000" stroke-width="0.2">10</text>
<line x1="262.80" y1="318.50" x2="264.60" y2="318.50" stroke="#777" stroke-width="1" />
<text x="260.30" y="321.10" font-size="9.6" font-weight="bold" text-anchor="end" fill="#000" textLength="8.00" lengthAdjust="spacingAndGlyphs" stroke="#000" stroke-width="0.2">20</text>
<line x1="262.80" y1="284.50" x2="264.60" y2="284.50" stroke="#777" stroke-width="1" />
<text x="260.30" y="287.10" font-size="9.6" font-weight="bold" text-anchor="end" fill="#000" textLength="8.00" lengthAdjust="spacingAndGlyphs" stroke="#000" stroke-width="0.2">30</text>
<rect x="268.70" y="383.30" width="12.30" height="3.20" fill="#cbcbcb" stroke="#666" stroke-width="1"/>
<rect x="282.80" y="303.70" width="12.30" height="82.80" fill="#cbcbcb" stroke="#666" stroke-width="1"/>
<line x1="288.80" y1="294.00" x2="288.80" y2="303.20" stroke="#6a6a6a" stroke-width="1.3" />
<line x1="285.20" y1="294.00" x2="292.10" y2="294.00" stroke="#6a6a6a" stroke-width="1.3" />
<rect x="302.10" y="383.30" width="11.50" height="3.20" fill="#474747" stroke="#2a2a2a" stroke-width="1"/>
<rect x="316.80" y="302.30" width="11.60" height="84.20" fill="#474747" stroke="#2a2a2a" stroke-width="1"/>
<line x1="322.60" y1="293.60" x2="322.60" y2="301.80" stroke="#6a6a6a" stroke-width="1.3" />
<line x1="319.20" y1="293.60" x2="326.00" y2="293.60" stroke="#6a6a6a" stroke-width="1.3" />
<polyline points="274.50,351.40 274.50,284.90 289.80,284.90 289.80,290.40" fill="none" stroke="#9a9a9a" stroke-width="1"/>
<polyline points="307.80,351.40 307.80,284.90 323.80,284.90 323.80,290.40" fill="none" stroke="#9a9a9a" stroke-width="1"/>
<text x="280.30" y="280.40" font-size="9.9" font-weight="normal" text-anchor="start" fill="#000" textLength="29.50" lengthAdjust="spacingAndGlyphs" transform="rotate(-31 280.30 280.40)" stroke="#000" stroke-width="0.2"><tspan font-style="italic">p</tspan>=0.0012</text>
<text x="314.00" y="280.40" font-size="9.9" font-weight="normal" text-anchor="start" fill="#000" textLength="29.50" lengthAdjust="spacingAndGlyphs" transform="rotate(-31 314.00 280.40)" stroke="#000" stroke-width="0.2"><tspan font-style="italic">p</tspan>=0.0012</text>
<line x1="274.70" y1="386.50" x2="274.70" y2="389.00" stroke="#777" stroke-width="1" />
<rect x="273.20" y="395.35" width="3.00" height="1.70" fill="#000" stroke="none" stroke-width="1"/>
<line x1="288.50" y1="386.50" x2="288.50" y2="389.00" stroke="#777" stroke-width="1" />
<text x="288.50" y="399.30" font-size="9.4" font-weight="bold" text-anchor="middle" fill="#000">+</text>
<line x1="308.20" y1="386.50" x2="308.20" y2="389.00" stroke="#777" stroke-width="1" />
<rect x="306.70" y="395.35" width="3.00" height="1.70" fill="#000" stroke="none" stroke-width="1"/>
<line x1="322.50" y1="386.50" x2="322.50" y2="389.00" stroke="#777" stroke-width="1" />
<text x="322.50" y="399.30" font-size="9.4" font-weight="bold" text-anchor="middle" fill="#000">+</text>
<text x="266.50" y="399.30" font-size="9.4" font-weight="bold" text-anchor="end" fill="#000" textLength="36.50" lengthAdjust="spacingAndGlyphs">Apoptotic</text>
<text x="272.20" y="410.60" font-size="9.4" font-weight="bold" text-anchor="end" fill="#000" textLength="46.20" lengthAdjust="spacingAndGlyphs">plasma cells</text>
<text x="247.20" y="335.00" font-size="9.5" font-weight="bold" text-anchor="middle" fill="#000" textLength="42.60" lengthAdjust="spacingAndGlyphs" transform="rotate(-90 247.20 335.00)">IL-12 pg/ml</text>
<line x1="395.70" y1="284.40" x2="395.70" y2="386.50" stroke="#777" stroke-width="1.1" />
<line x1="395.70" y1="386.50" x2="463.00" y2="386.50" stroke="#777" stroke-width="1.1" />
<line x1="393.90" y1="386.50" x2="395.70" y2="386.50" stroke="#777" stroke-width="1" />
<text x="391.30" y="389.10" font-size="9.6" font-weight="bold" text-anchor="end" fill="#000" textLength="4.10" lengthAdjust="spacingAndGlyphs" stroke="#000" stroke-width="0.2">0</text>
<line x1="393.90" y1="361.10" x2="395.70" y2="361.10" stroke="#777" stroke-width="1" />
<text x="391.30" y="363.70" font-size="9.6" font-weight="bold" text-anchor="end" fill="#000" textLength="12.30" lengthAdjust="spacingAndGlyphs" stroke="#000" stroke-width="0.2">100</text>
<line x1="393.90" y1="335.70" x2="395.70" y2="335.70" stroke="#777" stroke-width="1" />
<text x="391.30" y="338.30" font-size="9.6" font-weight="bold" text-anchor="end" fill="#000" textLength="12.30" lengthAdjust="spacingAndGlyphs" stroke="#000" stroke-width="0.2">200</text>
<line x1="393.90" y1="310.30" x2="395.70" y2="310.30" stroke="#777" stroke-width="1" />
<text x="391.30" y="312.90" font-size="9.6" font-weight="bold" text-anchor="end" fill="#000" textLength="12.30" lengthAdjust="spacingAndGlyphs" stroke="#000" stroke-width="0.2">300</text>
<line x1="393.90" y1="284.90" x2="395.70" y2="284.90" stroke="#777" stroke-width="1" />
<text x="391.30" y="287.50" font-size="9.6" font-weight="bold" text-anchor="end" fill="#000" textLength="12.30" lengthAdjust="spacingAndGlyphs" stroke="#000" stroke-width="0.2">400</text>
<rect x="399.50" y="385.70" width="12.80" height="0.80" fill="#cbcbcb" stroke="#666" stroke-width="1"/>
<rect x="413.80" y="315.30" width="12.40" height="71.20" fill="#cbcbcb" stroke="#666" stroke-width="1"/>
<line x1="420.00" y1="306.60" x2="420.00" y2="314.80" stroke="#6a6a6a" stroke-width="1.3" />
<line x1="416.50" y1="306.60" x2="423.40" y2="306.60" stroke="#6a6a6a" stroke-width="1.3" />
<rect x="433.80" y="385.70" width="10.60" height="0.80" fill="#474747" stroke="#2a2a2a" stroke-width="1"/>
<rect x="447.80" y="302.30" width="12.20" height="84.20" fill="#474747" stroke="#2a2a2a" stroke-width="1"/>
<line x1="454.30" y1="290.70" x2="454.30" y2="301.80" stroke="#6a6a6a" stroke-width="1.3" />
<line x1="451.60" y1="290.70" x2="457.00" y2="290.70" stroke="#6a6a6a" stroke-width="1.3" />
<polyline points="405.50,351.40 405.50,284.90 420.70,284.90 420.70,290.90" fill="none" stroke="#9a9a9a" stroke-width="1"/>
<polyline points="439.60,351.40 439.60,284.90 455.30,284.90 455.30,290.90" fill="none" stroke="#9a9a9a" stroke-width="1"/>
<text x="410.80" y="280.00" font-size="9.9" font-weight="normal" text-anchor="start" fill="#000" textLength="29.50" lengthAdjust="spacingAndGlyphs" transform="rotate(-31 410.80 280.00)" stroke="#000" stroke-width="0.2"><tspan font-style="italic">p</tspan>=0.0022</text>
<text x="444.70" y="280.00" font-size="9.9" font-weight="normal" text-anchor="start" fill="#000" textLength="29.50" lengthAdjust="spacingAndGlyphs" transform="rotate(-31 444.70 280.00)" stroke="#000" stroke-width="0.2"><tspan font-style="italic">p</tspan>=0.0022</text>
<line x1="405.70" y1="386.50" x2="405.70" y2="389.00" stroke="#777" stroke-width="1" />
<rect x="404.20" y="394.95" width="3.00" height="1.70" fill="#000" stroke="none" stroke-width="1"/>
<line x1="419.80" y1="386.50" x2="419.80" y2="389.00" stroke="#777" stroke-width="1" />
<text x="419.80" y="398.80" font-size="9.4" font-weight="bold" text-anchor="middle" fill="#000">+</text>
<line x1="439.90" y1="386.50" x2="439.90" y2="389.00" stroke="#777" stroke-width="1" />
<rect x="438.40" y="394.95" width="3.00" height="1.70" fill="#000" stroke="none" stroke-width="1"/>
<line x1="453.70" y1="386.50" x2="453.70" y2="389.00" stroke="#777" stroke-width="1" />
<text x="453.70" y="398.80" font-size="9.4" font-weight="bold" text-anchor="middle" fill="#000">+</text>
<text x="399.70" y="399.00" font-size="9.4" font-weight="bold" text-anchor="end" fill="#000" textLength="37.70" lengthAdjust="spacingAndGlyphs">Apoptotic</text>
<text x="403.20" y="410.30" font-size="9.4" font-weight="bold" text-anchor="end" fill="#000" textLength="45.60" lengthAdjust="spacingAndGlyphs">plasma cells</text>
<text x="374.00" y="333.30" font-size="9.5" font-weight="bold" text-anchor="middle" fill="#000" textLength="45.00" lengthAdjust="spacingAndGlyphs" transform="rotate(-90 374.00 333.30)">IFN α pg/ml</text>
<rect x="408.50" y="8.00" width="9.00" height="9.00" fill="#c4c4c4" stroke="#555" stroke-width="1"/>
<rect x="408.50" y="24.00" width="9.00" height="9.00" fill="#454545" stroke="#222" stroke-width="1"/>
<text x="421.90" y="16.80" font-size="12.2" font-weight="bold" text-anchor="start" fill="#000" textLength="31.50" lengthAdjust="spacingAndGlyphs" stroke="#000" stroke-width="0.3">MGUS</text>
<text x="421.90" y="32.80" font-size="12.2" font-weight="bold" text-anchor="start" fill="#000" textLength="16.80" lengthAdjust="spacingAndGlyphs" stroke="#000" stroke-width="0.3">MM</text>
<rect x="474.50" y="269.00" width="9.00" height="9.00" fill="#c4c4c4" stroke="#555" stroke-width="1"/>
<rect x="474.50" y="285.00" width="9.00" height="9.00" fill="#454545" stroke="#222" stroke-width="1"/>
<text x="487.90" y="277.80" font-size="12.2" font-weight="bold" text-anchor="start" fill="#000" textLength="31.60" lengthAdjust="spacingAndGlyphs" stroke="#000" stroke-width="0.3">MGUS</text>
<text x="487.90" y="293.80" font-size="12.2" font-weight="bold" text-anchor="start" fill="#000" textLength="17.80" lengthAdjust="spacingAndGlyphs" stroke="#000" stroke-width="0.3">MM</text>
</svg></body></html>
